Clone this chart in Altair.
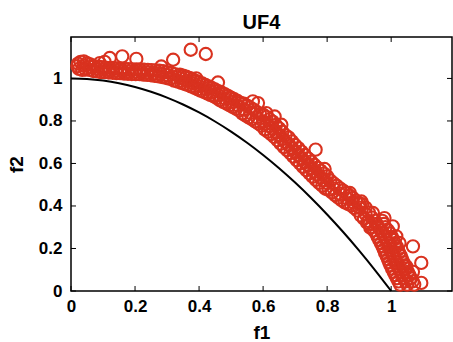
import altair as alt
import pandas as pd

RED = "#d9321f"
FONT = "Liberation Sans"

# ---- Pareto front (black curve) ----
front_f1 = [0.0, 0.05, 0.1, 0.15, 0.2, 0.25, 0.3, 0.35, 0.4, 0.45, 0.5,
            0.55, 0.6, 0.65, 0.7, 0.75, 0.8, 0.85, 0.9, 0.95, 1.0]
front_f2 = [1.0, 0.9975, 0.99, 0.9775, 0.96, 0.9375, 0.91, 0.8775, 0.84, 0.7975, 0.75,
            0.6975, 0.64, 0.5775, 0.51, 0.4375, 0.36, 0.2775, 0.19, 0.0975, 0.0]

# ---- obtained solutions (red circles) ----
flat_upper_f1 = [0.022, 0.03, 0.04, 0.05, 0.06, 0.072, 0.084, 0.096, 0.108, 0.12, 0.132, 0.144, 0.156, 0.168,
                 0.18, 0.192, 0.204, 0.216, 0.228, 0.24, 0.252, 0.264, 0.276, 0.288, 0.30, 0.312, 0.324, 0.336]
flat_upper_f2 = [1.07, 1.078, 1.08, 1.072, 1.066, 1.058, 1.055, 1.053, 1.051, 1.05, 1.049, 1.047, 1.046, 1.045,
                 1.044, 1.043, 1.042, 1.042, 1.041, 1.04, 1.039, 1.038, 1.036, 1.034, 1.03, 1.027, 1.02, 1.012]

flat_lower_f1 = [0.025, 0.035, 0.045, 0.058, 0.07, 0.082, 0.094, 0.106, 0.118, 0.13, 0.142, 0.154, 0.166, 0.178,
                 0.19, 0.202, 0.214, 0.226, 0.238, 0.25, 0.262, 0.274, 0.286, 0.298, 0.31, 0.322, 0.334]
flat_lower_f2 = [1.045, 1.04, 1.042, 1.04, 1.035, 1.033, 1.03, 1.03, 1.028, 1.027, 1.025, 1.025, 1.023, 1.022,
                 1.021, 1.02, 1.02, 1.018, 1.017, 1.015, 1.012, 1.01, 1.006, 1.002, 0.998, 0.99, 0.985]

flat_mid_f1 = [0.02, 0.04, 0.06, 0.08, 0.10, 0.12, 0.14, 0.16, 0.18, 0.20, 0.22, 0.24, 0.26, 0.28, 0.30, 0.32]
flat_mid_f2 = [1.058, 1.06, 1.053, 1.046, 1.042, 1.04, 1.037, 1.035, 1.033, 1.031, 1.03, 1.028, 1.025, 1.021,
               1.015, 1.005]

slope_upper_f1 = [0.34, 0.35, 0.36, 0.37, 0.38, 0.39, 0.40, 0.41, 0.42, 0.43, 0.44, 0.45, 0.46, 0.47, 0.48,
                  0.49, 0.50, 0.51, 0.52, 0.53, 0.54, 0.55, 0.56, 0.57, 0.58, 0.59, 0.60, 0.61, 0.62, 0.63,
                  0.64, 0.65, 0.66, 0.67, 0.68, 0.69, 0.70, 0.71, 0.72, 0.73, 0.74, 0.75, 0.76, 0.77, 0.78,
                  0.79, 0.80, 0.81, 0.82, 0.83, 0.84, 0.85, 0.86, 0.87, 0.88, 0.89, 0.90, 0.91, 0.92, 0.93, 0.94]
slope_upper_f2 = [1.018, 1.013, 1.008, 1.003, 0.996, 0.988, 0.982, 0.976, 0.969, 0.962, 0.955, 0.948, 0.94, 0.934,
                  0.926, 0.918, 0.91, 0.902, 0.894, 0.885, 0.881, 0.872, 0.863, 0.853, 0.843, 0.833, 0.83, 0.819,
                  0.808, 0.797, 0.781, 0.765, 0.749, 0.733, 0.722, 0.704, 0.687, 0.672, 0.656, 0.64, 0.624,
                  0.609, 0.594, 0.58, 0.566, 0.552, 0.539, 0.52, 0.507, 0.495, 0.483, 0.472, 0.462, 0.448,
                  0.438, 0.425, 0.412, 0.408, 0.392, 0.37, 0.345]

slope_lower_f1 = [0.345, 0.355, 0.365, 0.375, 0.385, 0.395, 0.405, 0.415, 0.425, 0.435, 0.445, 0.455, 0.465,
                  0.475, 0.485, 0.495, 0.505, 0.515, 0.525, 0.535, 0.545, 0.555, 0.565, 0.575, 0.585, 0.595,
                  0.605, 0.615, 0.625, 0.635, 0.645, 0.655, 0.665, 0.675, 0.685, 0.695, 0.705, 0.715, 0.725,
                  0.735, 0.745, 0.755, 0.765, 0.775, 0.785, 0.795, 0.805, 0.815, 0.825, 0.835, 0.845, 0.855,
                  0.865, 0.875, 0.885, 0.895, 0.905, 0.915, 0.925, 0.935]
slope_lower_f2 = [0.979, 0.974, 0.969, 0.963, 0.956, 0.949, 0.943, 0.937, 0.93, 0.923, 0.916, 0.908, 0.898,
                  0.89, 0.882, 0.874, 0.866, 0.858, 0.85, 0.835, 0.826, 0.817, 0.808, 0.798, 0.788, 0.778,
                  0.76, 0.75, 0.738, 0.725, 0.709, 0.693, 0.677, 0.663, 0.649, 0.632, 0.615, 0.6, 0.584,
                  0.568, 0.553, 0.538, 0.523, 0.509, 0.495, 0.481, 0.476, 0.464, 0.451, 0.439, 0.427, 0.417,
                  0.41, 0.403, 0.391, 0.378, 0.355, 0.34, 0.321, 0.298]

slope_mid_f1 = [0.34, 0.36, 0.38, 0.40, 0.42, 0.44, 0.46, 0.48, 0.50, 0.52, 0.54, 0.56, 0.58, 0.60, 0.61,
                0.62, 0.63, 0.64, 0.65, 0.66, 0.67, 0.68, 0.69, 0.70, 0.71, 0.72, 0.73, 0.74, 0.75, 0.76,
                0.77, 0.78, 0.79, 0.80, 0.82, 0.84, 0.86, 0.88, 0.90, 0.92]
slope_mid_f2 = [1.0, 0.99, 0.978, 0.964, 0.951, 0.937, 0.922, 0.906, 0.89, 0.874, 0.856, 0.838, 0.818, 0.798,
                0.787, 0.776, 0.765, 0.749, 0.733, 0.717, 0.701, 0.69, 0.672, 0.655, 0.64, 0.624, 0.608,
                0.592, 0.577, 0.562, 0.548, 0.534, 0.52, 0.507, 0.482, 0.458, 0.437, 0.418, 0.392, 0.362]

steep_f2 = [0.33, 0.315, 0.30, 0.285, 0.27, 0.255, 0.24, 0.225, 0.21, 0.195, 0.18, 0.165, 0.15, 0.135,
            0.12, 0.105, 0.09, 0.075, 0.06, 0.045, 0.03]
steep_left_f1 = [0.928, 0.933, 0.938, 0.946, 0.953, 0.958, 0.963, 0.968, 0.973, 0.977, 0.981, 0.986, 0.99,
                 0.994, 0.998, 1.003, 1.008, 1.013, 1.018, 1.023, 1.028]
steep_mid_f1 = [0.95, 0.955, 0.96, 0.968, 0.975, 0.98, 0.985, 0.99, 0.995, 0.999, 1.003, 1.008, 1.012,
                1.016, 1.02, 1.025, 1.03, 1.035, 1.04, 1.045, 1.05]
steep_right_f1 = [0.972, 0.977, 0.982, 0.99, 0.997, 1.002, 1.007, 1.012, 1.017, 1.021, 1.025, 1.03, 1.034,
                  1.038, 1.042, 1.047, 1.052, 1.057, 1.062, 1.067, 1.072]

outlier_f1 = [0.09, 0.105, 0.121, 0.16, 0.204, 0.282, 0.319, 0.374, 0.421, 0.391, 0.459, 0.495, 0.568,
              0.584, 0.61, 0.636, 0.657, 0.764, 0.792, 0.871, 0.907, 0.943, 0.979, 1.005, 1.016, 1.026,
              1.068, 1.047, 1.068, 1.094, 1.094]
outlier_f2 = [1.072, 1.078, 1.096, 1.104, 1.092, 1.056, 1.088, 1.135, 1.115, 1.0, 0.981, 0.908, 0.892,
              0.884, 0.837, 0.821, 0.782, 0.665, 0.574, 0.461, 0.421, 0.367, 0.343, 0.304, 0.257, 0.226,
              0.21, 0.116, 0.09, 0.132, 0.038]

tick_vals = [0, 0.2, 0.4, 0.6, 0.8, 1.0]

f1_all = (flat_upper_f1 + flat_lower_f1 + flat_mid_f1 + slope_upper_f1 + slope_lower_f1 + slope_mid_f1
          + steep_left_f1 + steep_mid_f1 + steep_right_f1 + outlier_f1)
f2_all = (flat_upper_f2 + flat_lower_f2 + flat_mid_f2 + slope_upper_f2 + slope_lower_f2 + slope_mid_f2
          + steep_f2 + steep_f2 + steep_f2 + outlier_f2)

pts = pd.DataFrame({"f1": f1_all, "f2": f2_all})
front = pd.DataFrame({"f1": front_f1, "f2": front_f2})
ticks = pd.DataFrame({"t": tick_vals})

XMAX, YMAX = 1.19, 1.195
TX, TY = 0.0156, 0.0235  # inward tick length (~5 px) in data units
xs = alt.Scale(domain=[0, XMAX], nice=False, zero=False)
ys = alt.Scale(domain=[0, YMAX], nice=False, zero=False)

x_axis = alt.Axis(title="f1", values=tick_vals, format=".1~f", ticks=False, domain=False, grid=False,
                  labelFont=FONT, labelFontSize=17, labelFontWeight="bold", labelColor="black",
                  labelPadding=7, labelFlush=False, titleFont=FONT, titleFontSize=19,
                  titleFontWeight="bold", titleColor="black", titlePadding=9)
y_axis = alt.Axis(title="f2", values=tick_vals, format=".1~f", ticks=False, domain=False, grid=False,
                  labelFont=FONT, labelFontSize=17, labelFontWeight="bold", labelColor="black",
                  labelPadding=9, labelFlush=False, titleFont=FONT, titleFontSize=19,
                  titleFontWeight="bold", titleColor="black", titlePadding=12)

points = alt.Chart(pts).mark_point(shape="circle", filled=False, size=150, strokeWidth=2.1,
                                   color=RED, opacity=1).encode(
    x=alt.X("f1:Q", scale=xs, axis=x_axis),
    y=alt.Y("f2:Q", scale=ys, axis=y_axis),
)

curve = alt.Chart(front).mark_line(color="black", strokeWidth=2, interpolate="monotone").encode(
    x=alt.X("f1:Q", scale=xs, axis=x_axis),
    y=alt.Y("f2:Q", scale=ys, axis=y_axis),
)

tick_style = dict(color="black", strokeWidth=1)
bottom_ticks = alt.Chart(ticks).mark_rule(**tick_style).encode(
    x=alt.X("t:Q", scale=xs, axis=x_axis),
    y=alt.YDatum(0, scale=ys, axis=y_axis), y2=alt.datum(TY))
top_ticks = alt.Chart(ticks).mark_rule(**tick_style).encode(
    x=alt.X("t:Q", scale=xs, axis=x_axis),
    y=alt.YDatum(YMAX, scale=ys, axis=y_axis), y2=alt.datum(YMAX - TY))
left_ticks = alt.Chart(ticks).mark_rule(**tick_style).encode(
    y=alt.Y("t:Q", scale=ys, axis=y_axis),
    x=alt.XDatum(0, scale=xs, axis=x_axis), x2=alt.datum(TX))
right_ticks = alt.Chart(ticks).mark_rule(**tick_style).encode(
    y=alt.Y("t:Q", scale=ys, axis=y_axis),
    x=alt.XDatum(XMAX, scale=xs, axis=x_axis), x2=alt.datum(XMAX - TX))

chart = alt.layer(points, curve, bottom_ticks, top_ticks, left_ticks, right_ticks).properties(
    width=381, height=254,
    padding={"left": 71, "top": 37, "right": 1, "bottom": 51},
    autosize="none",
    background="white",
    title=alt.TitleParams("UF4", font=FONT, fontSize=20, fontWeight="bold", color="black",
                          offset=4, anchor="middle"),
).configure_view(stroke="black", strokeWidth=1.5)

chart.save("out.html", embed_options={"renderer": "svg", "actions": False})
